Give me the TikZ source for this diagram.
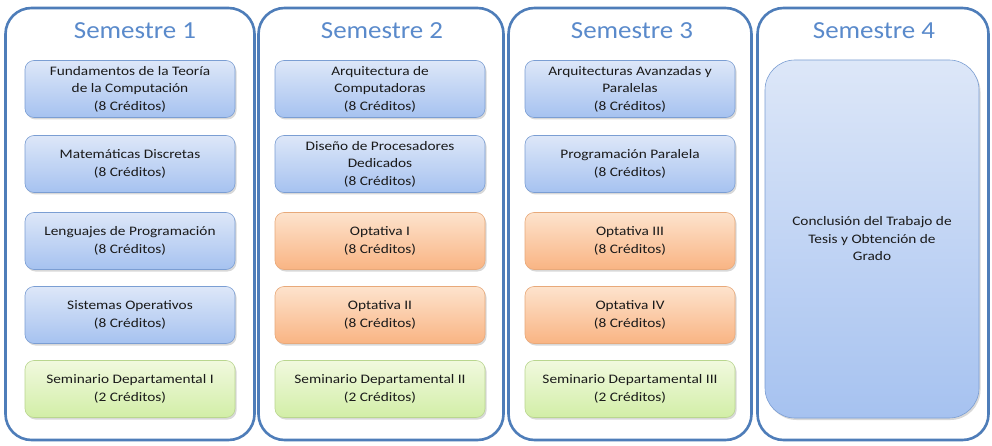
\documentclass[tikz,border=0pt]{standalone}
\usepackage{fontspec}
\setmainfont{Carlito}
\newfontfamily\boxfont[FakeStretch=1.18]{Carlito}
\newfontfamily\titlefont[FakeStretch=1.1]{Carlito}
\usetikzlibrary{shadows}

\begin{document}
\begin{tikzpicture}[x=1pt, y=-1pt,
  column/.style={draw=ColBlue, line width=2.6pt, rounded corners=26pt, fill=white,
    minimum height=432pt, drop shadow={shadow xshift=1pt, shadow yshift=-1pt, opacity=0.25}},
  title/.style={text=TitleBlue, font=\titlefont\fontsize{24.5}{26}\selectfont},
  subj/.style={rounded corners=9pt, minimum width=210pt, minimum height=57pt, align=center,
    text=TextGray, font=\boxfont\fontsize{13}{17.5}\selectfont, line width=0.6pt,
    drop shadow={shadow xshift=1.5pt, shadow yshift=-2pt, opacity=0.3}},
  subjblue/.style={subj, draw=BoxBlueLine, top color=BoxBlueTop, bottom color=BoxBlueBot},
  subjorange/.style={subj, draw=BoxOrangeLine, top color=BoxOrangeTop, bottom color=BoxOrangeBot},
  subjgreen/.style={subj, draw=BoxGreenLine, top color=BoxGreenTop, bottom color=BoxGreenBot}]
\definecolor{ColBlue}{HTML}{4E7DB9};
\definecolor{TitleBlue}{HTML}{5A8ACB};
\definecolor{TextGray}{HTML}{1A1A1A};
\definecolor{BoxBlueLine}{HTML}{7B9ED3};
\definecolor{BoxBlueTop}{HTML}{DDE7F8};
\definecolor{BoxBlueBot}{HTML}{A6C2F0};
\definecolor{BoxOrangeLine}{HTML}{E8A97A};
\definecolor{BoxOrangeTop}{HTML}{FDE3CD};
\definecolor{BoxOrangeBot}{HTML}{F9B483};
\definecolor{BoxGreenLine}{HTML}{B9D68F};
\definecolor{BoxGreenTop}{HTML}{F1F9DF};
\definecolor{BoxGreenBot}{HTML}{D2EEA6};

\useasboundingbox (0,0) rectangle (992,446);

% columns
\node[column, minimum width=249pt] (col1) at (130,224) {};
\node[column, minimum width=245pt] (col2) at (381,224) {};
\node[column, minimum width=243pt] (col3) at (630,224) {};
\node[column, minimum width=231pt] (col4) at (873,224) {};

% titles
\node[title] (t1) at (135,31) {Semestre 1};
\node[title] (t2) at (382,31) {Semestre 2};
\node[title] (t3) at (632,31) {Semestre 3};
\node[title] (t4) at (874,31) {Semestre 4};

% Semestre 1
\node[subjblue] (s1a) at (130,89) {Fundamentos de la Teoría\\de la Computación\\(8 Créditos)};
\node[subjblue] (s1b) at (130,164) {Matemáticas Discretas\\(8 Créditos)};
\node[subjblue] (s1c) at (130,241) {Lenguajes de Programación\\(8 Créditos)};
\node[subjblue] (s1d) at (130,315) {Sistemas Operativos\\(8 Créditos)};
\node[subjgreen] (s1e) at (130,389) {Seminario Departamental I\\(2 Créditos)};

% Semestre 2
\node[subjblue] (s2a) at (380,89) {Arquitectura de\\Computadoras\\(8 Créditos)};
\node[subjblue] (s2b) at (380,164) {Diseño de Procesadores\\Dedicados\\(8 Créditos)};
\node[subjorange] (s2c) at (380,241) {Optativa I\\(8 Créditos)};
\node[subjorange] (s2d) at (380,315) {Optativa II\\(8 Créditos)};
\node[subjgreen] (s2e) at (380,389) {Seminario Departamental II\\(2 Créditos)};

% Semestre 3
\node[subjblue] (s3a) at (630,89) {Arquitecturas Avanzadas y\\Paralelas\\(8 Créditos)};
\node[subjblue] (s3b) at (630,164) {Programación Paralela\\(8 Créditos)};
\node[subjorange] (s3c) at (630,241) {Optativa III\\(8 Créditos)};
\node[subjorange] (s3d) at (630,315) {Optativa IV\\(8 Créditos)};
\node[subjgreen] (s3e) at (630,389) {Seminario Departamental III\\(2 Créditos)};

% Semestre 4
\node[subjblue, rounded corners=30pt, minimum width=214pt, minimum height=358pt]
  (s4a) at (872,239) {Conclusión del Trabajo de\\Tesis y Obtención de\\Grado};
\end{tikzpicture}
\end{document}
